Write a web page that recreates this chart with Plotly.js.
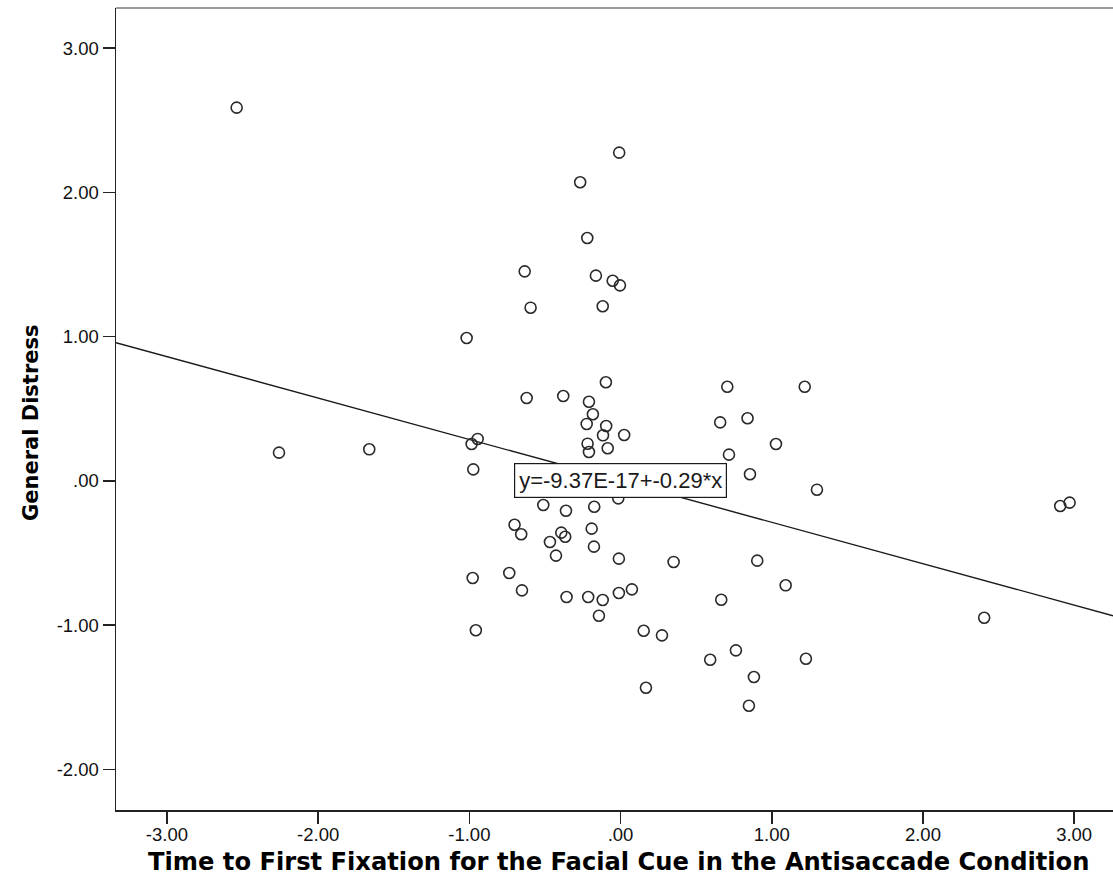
<!DOCTYPE html>
<html>
<head>
<meta charset="utf-8">
<script src="https://cdn.plot.ly/plotly-3.0.1.min.js"></script>
<style>
  html, body { margin: 0; padding: 0; background: #fff; }
  #chart { width: 1113px; height: 895px; }
</style>
</head>
<body>
<div id="chart"></div>
<script>
// Time to First Fixation (standardized) for each participant
const fixationX = [
  -2.539, -2.259, -1.662, -0.009, -0.267, -0.220, -0.634, -0.163, -0.052, -0.004,
  -0.595, -0.118, -1.018, -0.097, -0.621, -0.379, -0.209, -0.183, -0.224, -0.095,
  -0.116, 0.024, -0.945, -0.985, -0.218, -0.209, -0.085, -0.974, -0.511, -0.361,
  -0.174, -0.015, -0.701, -0.657, -0.392, -0.366, -0.467, -0.191, -0.176, -0.427,
  -0.011, 0.351, -0.978, -0.736, -0.652, -0.357, -0.214, -0.118, -0.011, 0.075,
  -0.143, -0.957, 0.153, 0.274, 0.168, 0.706, 1.218, 0.659, 0.840, 1.028,
  0.717, 0.856, 1.299, 0.904, 1.092, 0.666, 0.763, 0.593, 1.226, 0.882,
  0.849, 2.908, 2.970, 2.405
];
// General Distress (standardized) for each participant
const distressY = [
  2.588, 0.196, 0.219, 2.276, 2.071, 1.684, 1.453, 1.423, 1.388, 1.356,
  1.201, 1.211, 0.991, 0.684, 0.575, 0.589, 0.549, 0.462, 0.395, 0.381,
  0.316, 0.318, 0.291, 0.256, 0.258, 0.200, 0.226, 0.080, -0.167, -0.207,
  -0.179, -0.121, -0.304, -0.370, -0.359, -0.387, -0.424, -0.331, -0.456, -0.518,
  -0.539, -0.562, -0.673, -0.639, -0.759, -0.805, -0.805, -0.826, -0.777, -0.752,
  -0.935, -1.036, -1.039, -1.071, -1.434, 0.653, 0.653, 0.406, 0.434, 0.256,
  0.182, 0.046, -0.061, -0.553, -0.724, -0.824, -1.175, -1.240, -1.233, -1.360,
  -1.559, -0.174, -0.151, -0.949
];
// Fitted linear regression
const fitIntercept = -9.37e-17;
const fitSlope = -0.287;
const fitLabel = "y=-9.37E-17+-0.29*x";

// Axes
const xRange = [-3.337, 3.257];
const yRange = [-2.282, 3.279];
const xTickVals = [-3, -2, -1, 0, 1, 2, 3];
const xTickText = ["-3.00", "-2.00", "-1.00", ".00", "1.00", "2.00", "3.00"];
const yTickVals = [-2, -1, 0, 1, 2, 3];
const yTickText = ["-2.00", "-1.00", ".00", "1.00", "2.00", "3.00"];
const xTitle = "Time to First Fixation for the Facial Cue in the Antisaccade Condition";
const yTitle = "General Distress";

const fitX = xRange.slice();
const fitY = fitX.map(v => fitIntercept + fitSlope * v);

const traces = [
  {
    x: fitX, y: fitY, type: "scatter", mode: "lines",
    line: { color: "#1a1a1a", width: 1.4 }, hoverinfo: "skip"
  },
  {
    x: fixationX, y: distressY, type: "scatter", mode: "markers",
    marker: { symbol: "circle-open", size: 11, color: "#2a2a2a", line: { width: 1.6 } }
  }
];

const tickFont = { family: "Liberation Sans, Arial, sans-serif", size: 18.5, color: "#111" };
const titleFontX = { family: "DejaVu Sans, Verdana, sans-serif", size: 24.2, color: "#000", weight: "bold" };
const titleFontY = { family: "DejaVu Sans, Verdana, sans-serif", size: 21, color: "#000", weight: "bold" };

const layout = {
  width: 1113, height: 895,
  margin: { l: 116, r: 0, t: 8, b: 85 },
  paper_bgcolor: "#fff", plot_bgcolor: "#fff",
  showlegend: false,
  xaxis: {
    range: xRange, showgrid: false, zeroline: false,
    showline: true, linecolor: "#222", linewidth: 1.5,
    ticks: "outside", ticklen: 12, tickwidth: 1.5, tickcolor: "#222",
    tickvals: xTickVals, ticktext: xTickText, tickfont: tickFont,
    ticklabelstandoff: -5,
    automargin: false
  },
  yaxis: {
    range: yRange, showgrid: false, zeroline: false,
    showline: true, linecolor: "#222", linewidth: 1.5,
    ticks: "outside", ticklen: 12, tickwidth: 1.5, tickcolor: "#222",
    tickvals: yTickVals, ticktext: yTickText, tickfont: tickFont,
    automargin: false
  },
  shapes: [
    { type: "line", xref: "paper", yref: "paper", x0: 0, x1: 1, y0: 1, y1: 1,
      line: { color: "#7a7a7a", width: 1.5 } }
  ],
  annotations: [
    { x: 0, y: fitIntercept, xref: "x", yref: "y", text: fitLabel, showarrow: false,
      font: { family: "Liberation Sans, Arial, sans-serif", size: 22, color: "#1a1a1a" },
      bgcolor: "#fff", bordercolor: "#1a1a1a", borderwidth: 1.2, borderpad: 4 },
    { x: -0.0853, y: 0.4825, xref: "paper", yref: "paper", text: yTitle, showarrow: false,
      textangle: -90, xanchor: "center", yanchor: "middle", font: titleFontY },
    { x: 0.5045, y: -0.0648, xref: "paper", yref: "paper", text: xTitle, showarrow: false,
      xanchor: "center", yanchor: "middle", font: titleFontX }
  ]
};

Plotly.newPlot("chart", traces, layout, { displayModeBar: false, staticPlot: true });
</script>
</body>
</html>
